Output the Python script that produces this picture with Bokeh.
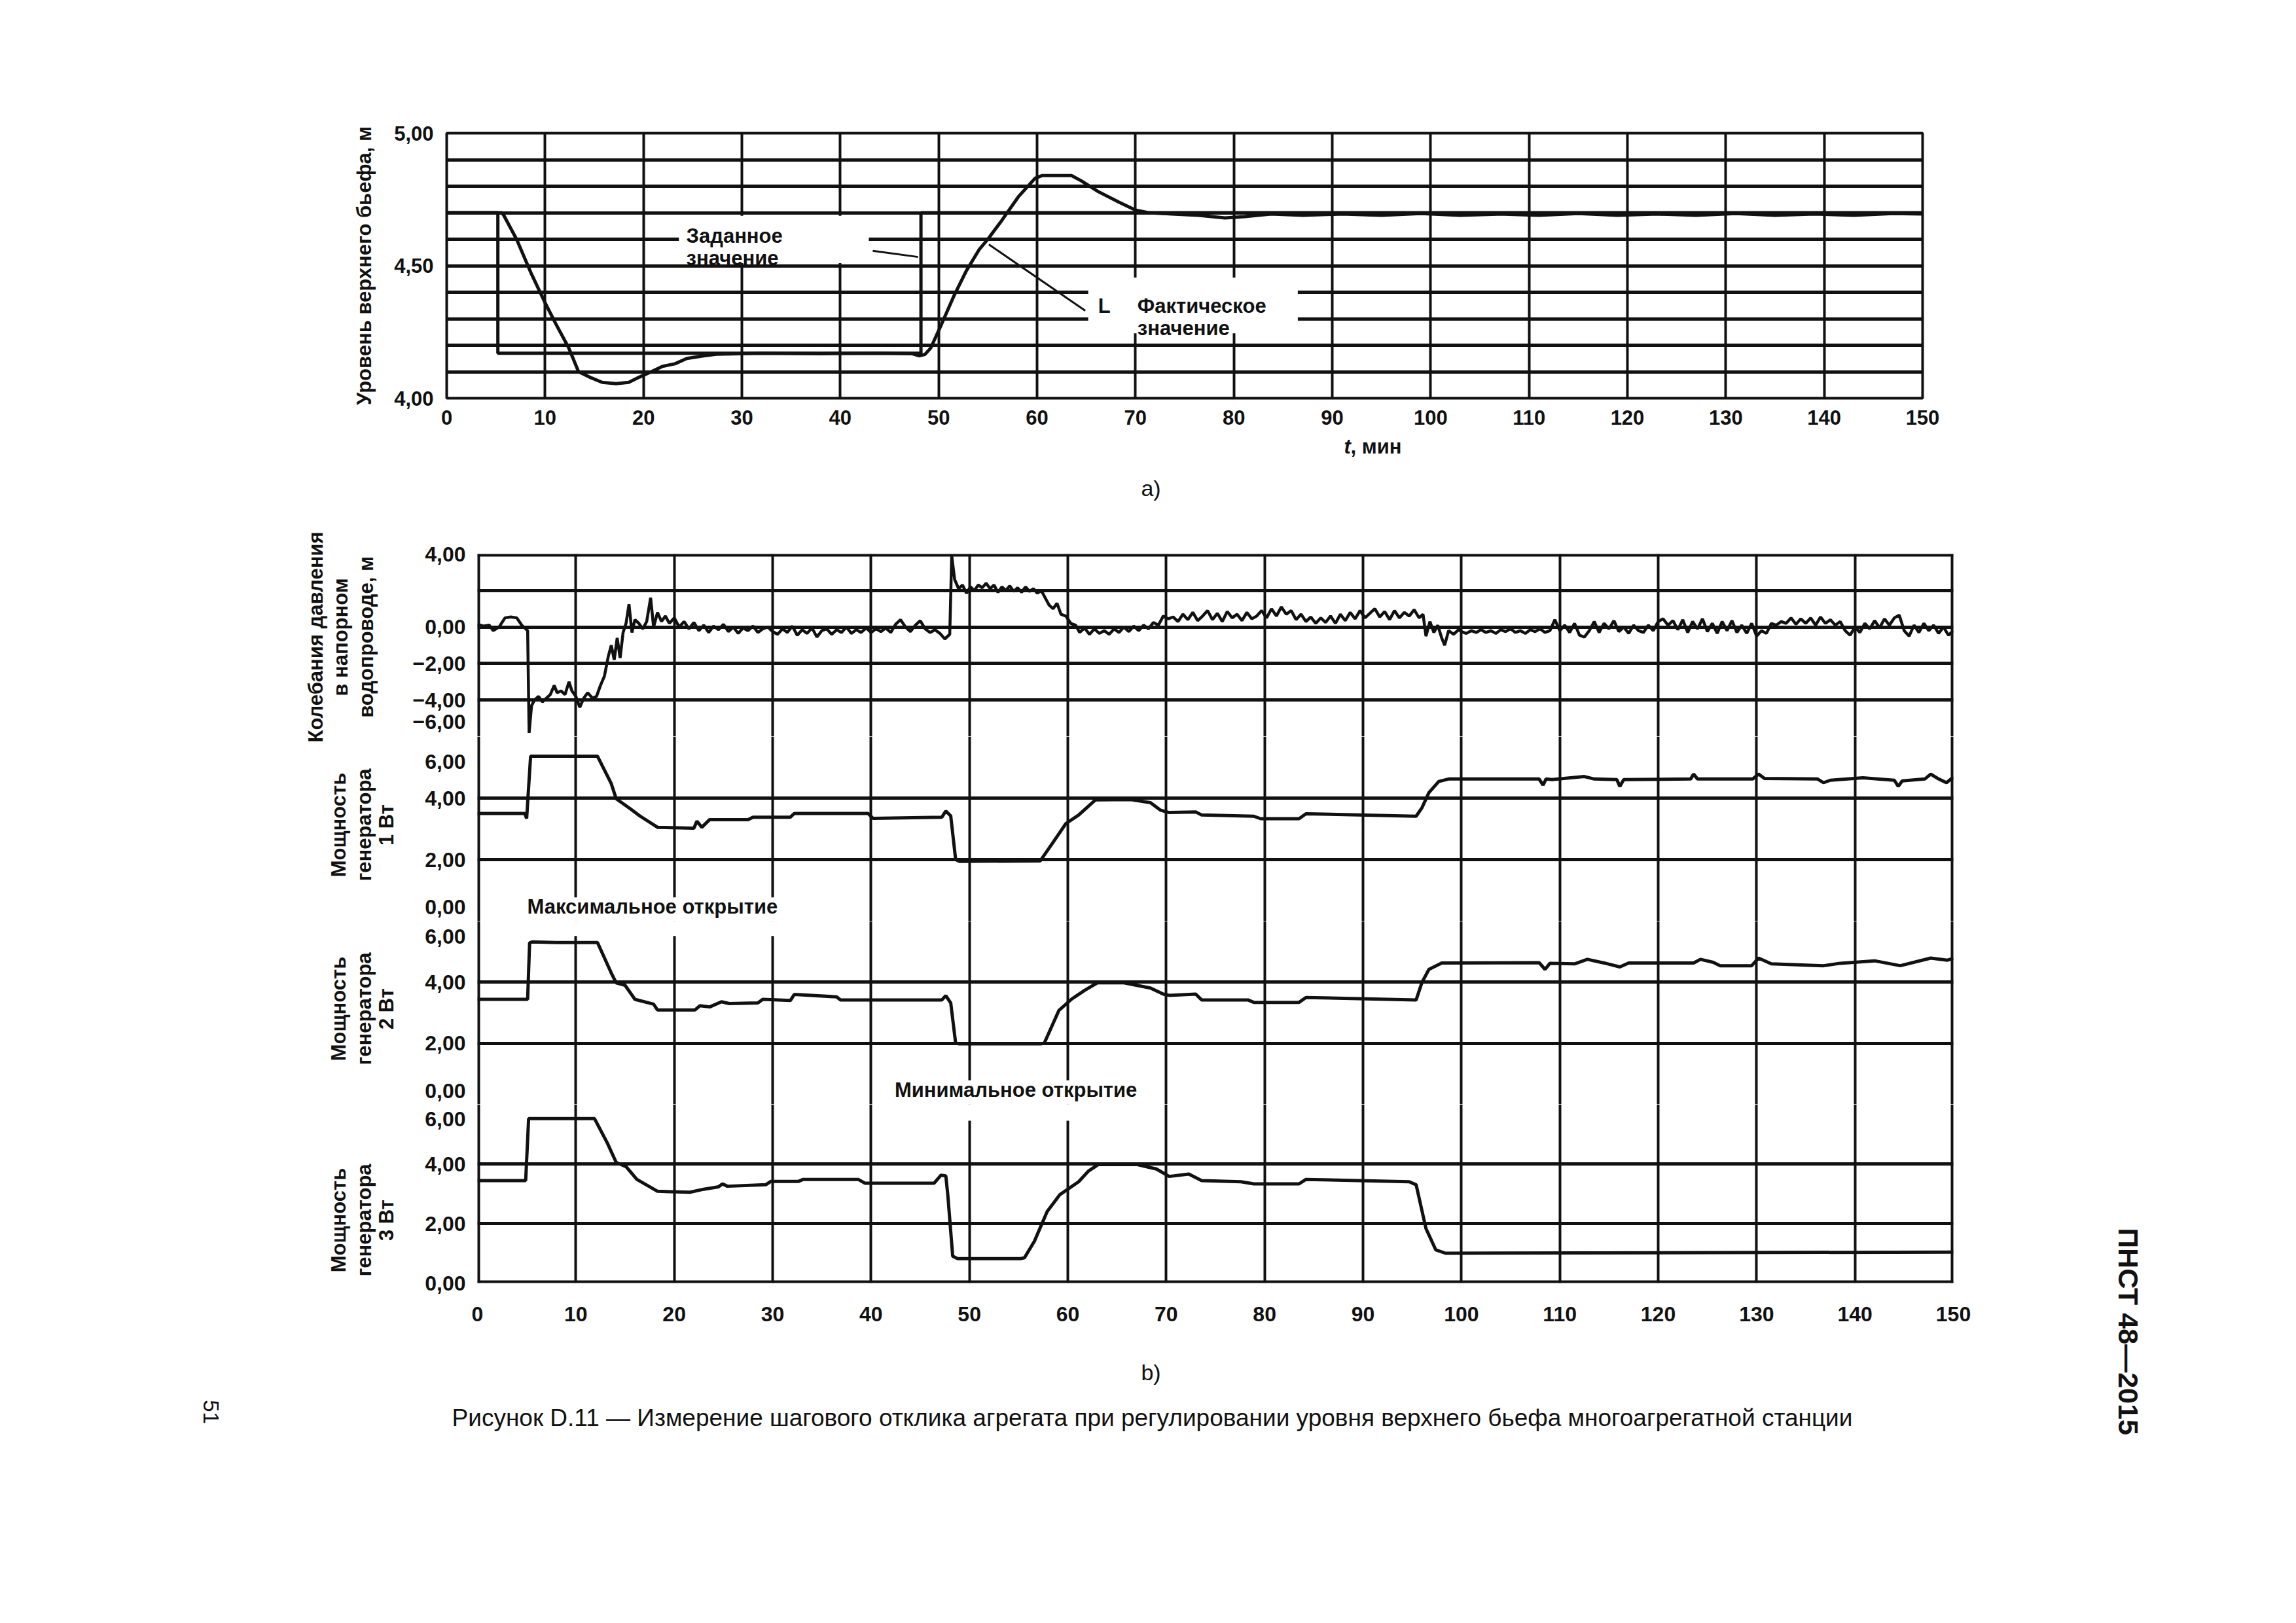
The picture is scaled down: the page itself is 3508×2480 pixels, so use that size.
from math import pi
from bokeh.plotting import figure
from bokeh.layouts import column, row
from bokeh.models import FixedTicker, Label, Range1d, BoxAnnotation, Span, Spacer
from bokeh.embed import file_html
from bokeh.resources import INLINE

# ---------------- data ----------------
time_ticks = [0, 10, 20, 30, 40, 50, 60, 70, 80, 90, 100, 110, 120, 130, 140, 150]

# (a) upper water level
level_grid = [4.0, 4.1, 4.2, 4.3, 4.4, 4.5, 4.6, 4.7, 4.8, 4.9, 5.0]
level_ticks = [4.0, 4.5, 5.0]
level_labels = ["4,00", "4,50", "5,00"]

setpoint_t = [0, 5.2, 5.2, 48.2, 48.2, 150]
setpoint_v = [4.70, 4.70, 4.17, 4.17, 4.70, 4.70]

actual_points = [
    (0, 4.70), (5.6, 4.70), (5.8, 4.69), (7.1, 4.60), (8.6, 4.47), (10.0, 4.36), (11.1, 4.28),
    (12.4, 4.19), (13.4, 4.10), (14.5, 4.08), (15.8, 4.06), (17.2, 4.055), (18.5, 4.06), (19.6, 4.08),
    (20.8, 4.10), (21.9, 4.12), (23.2, 4.13), (24.4, 4.15), (26.1, 4.16), (27.4, 4.166), (32, 4.17),
    (38, 4.168), (44, 4.17), (47.3, 4.168), (48.0, 4.16), (48.6, 4.165), (49.2, 4.19), (50.3, 4.28),
    (51.6, 4.39), (52.8, 4.48), (54.1, 4.56), (55.0, 4.60), (56.4, 4.67), (58.1, 4.76), (59.8, 4.83),
    (60.5, 4.84), (63.5, 4.84), (64.5, 4.82), (66.2, 4.78), (68.3, 4.74), (70.0, 4.71), (71.3, 4.70),
    (73.7, 4.695), (76.4, 4.69), (79.1, 4.68), (81.1, 4.685), (83.8, 4.695), (87, 4.69), (91, 4.695),
    (95, 4.69), (99, 4.697), (103, 4.69), (107, 4.695), (111, 4.69), (115, 4.697), (119, 4.69),
    (123, 4.695), (127, 4.69), (131, 4.697), (135, 4.69), (139, 4.695), (143, 4.69), (147, 4.697),
    (150, 4.695),
]
setpoint_leader_t = [43.3, 47.9]
setpoint_leader_v = [4.556, 4.533]
actual_leader_t = [55.1, 64.9]
actual_leader_v = [4.58, 4.33]

# (b) penstock pressure and generator powers
pressure_grid = [-6, -4, -2, 0, 2, 4]
pressure_ticks = [4, 0, -2, -4, -5.2]
pressure_labels = ["4,00", "0,00", "\u22122,00", "\u22124,00", "\u22126,00"]
power_grid = [0, 2, 4, 6]
gen1_ticks = [5.19, 4, 2, 0.45]
gen2_ticks = [5.5, 4, 2, 0.45]
gen3_ticks = [5.5, 4, 2, 0]
power_labels = ["6,00", "4,00", "2,00", "0,00"]

panel_titles = [
    ["Колебания давления", "в напорном", "водопроводе, м"],
    ["Мощность", "генератора", "1 Вт"],
    ["Мощность", "генератора", "2 Вт"],
    ["Мощность", "генератора", "3 Вт"],
]

pressure_points = [
    (0.0, 0.15), (0.6, 0.05), (1.2, 0.1), (1.6, -0.2), (2.2, 0.0), (2.8, 0.5), (3.4, 0.55), (4.0, 0.5),
    (4.5, 0.1), (4.9, -0.1), (5.1, -0.2), (5.25, -5.8), (5.5, -4.3), (5.8, -4.0), (6.2, -3.8), (6.6, -4.1),
    (7.0, -3.9), (7.4, -3.7), (7.8, -3.2), (8.1, -3.6), (8.5, -3.5), (8.9, -3.7), (9.3, -3.0), (9.6, -3.5),
    (10.0, -3.8), (10.4, -4.4), (10.8, -3.9), (11.2, -3.6), (11.7, -3.9), (12.1, -3.8), (12.5, -3.2),
    (12.9, -2.7), (13.3, -1.6), (13.6, -1.0), (13.9, -1.8), (14.2, -0.6), (14.5, -1.7), (14.8, -0.3),
    (15.1, 0.2), (15.4, 1.25), (15.7, -0.3), (16.0, 0.4), (16.4, 0.2), (16.8, -0.1), (17.2, 0.3),
    (17.6, 1.6), (17.9, 0.0), (18.3, 0.8), (18.7, 0.3), (19.1, 0.6), (19.5, 0.2), (20.0, 0.5),
    (20.5, 0.0), (21.0, 0.3), (21.5, -0.1), (22.0, 0.25),
    (22.5, -0.2), (23.0, 0.1), (23.5, -0.3), (24.0, 0.05), (24.5, -0.15), (25.0, 0.15), (25.5, -0.25),
    (26.0, 0.0), (26.5, -0.35), (27.0, -0.05), (27.5, -0.2), (28.0, 0.05), (28.5, -0.3), (29.0, -0.1),
    (29.5, 0.0), (30.0, -0.25), (30.5, -0.4), (31.0, -0.1), (31.5, -0.3), (32.0, 0.05), (32.5, -0.45),
    (33.0, -0.15), (33.5, -0.35), (34.0, -0.05), (34.5, -0.55), (35.0, -0.2), (35.5, -0.1), (36.0, -0.4),
    (36.5, -0.15), (37.0, -0.3), (37.5, 0.0), (38.0, -0.35), (38.5, -0.15), (39.0, -0.3), (39.5, -0.05),
    (40.0, -0.3), (40.5, -0.1), (41.0, -0.25), (41.5, -0.05), (42.0, -0.3), (42.5, 0.15), (43.0, 0.4),
    (43.5, 0.0), (44.0, -0.25), (44.5, 0.1), (45.0, 0.35), (45.5, -0.1), (46.0, -0.3), (46.5, -0.15),
    (47.0, -0.35), (47.5, -0.65), (48.0, -0.4),
    (48.2, 3.9), (48.5, 2.6), (48.9, 2.1), (49.3, 2.3), (49.7, 1.85), (50.1, 2.2), (50.5, 2.0),
    (50.9, 2.3), (51.3, 2.15), (51.7, 2.4), (52.1, 2.1), (52.5, 2.3), (52.9, 1.9), (53.3, 2.2),
    (53.7, 2.0), (54.1, 2.25), (54.5, 1.95), (54.9, 2.15), (55.3, 1.9), (55.7, 2.2), (56.1, 1.95),
    (56.5, 2.1), (56.9, 1.85), (57.3, 2.0), (57.7, 1.6), (58.1, 1.2), (58.5, 1.0), (58.9, 1.3),
    (59.3, 0.7), (59.8, 0.6), (60.3, 0.2), (60.8, 0.1), (61.2, -0.3), (61.7, -0.05), (62.2, -0.4),
    (62.7, -0.1), (63.2, -0.35), (63.7, -0.2), (64.2, -0.4), (64.7, -0.1), (65.2, -0.3), (65.7, 0.0),
    (66.2, -0.25), (66.7, 0.05), (67.2, -0.2), (67.7, 0.1), (68.2, -0.1), (68.7, 0.25), (69.2, 0.1),
    (69.7, 0.6),
    (70.2, 0.45), (70.7, 0.55), (71.2, 0.3), (71.7, 0.7), (72.2, 0.4), (72.7, 0.8), (73.2, 0.35),
    (73.7, 0.6), (74.2, 0.9), (74.7, 0.4), (75.2, 0.75), (75.7, 0.3), (76.2, 0.85), (76.7, 0.5),
    (77.2, 0.7), (77.7, 0.35), (78.2, 0.8), (78.7, 0.45), (79.2, 0.6), (79.7, 0.9), (80.2, 0.5),
    (80.7, 1.0), (81.2, 0.6), (81.7, 1.1), (82.2, 0.7), (82.7, 0.9), (83.2, 0.4), (83.7, 0.7),
    (84.2, 0.3), (84.7, 0.55), (85.2, 0.2), (85.7, 0.5), (86.2, 0.25), (86.7, 0.6), (87.2, 0.2),
    (87.7, 0.7), (88.2, 0.35), (88.7, 0.8), (89.2, 0.45), (89.7, 0.9), (90.2, 0.5), (90.7, 0.75),
    (91.2, 1.0), (91.7, 0.55), (92.2, 0.85), (92.7, 0.4), (93.2, 0.9), (93.7, 0.5), (94.2, 0.8),
    (94.7, 0.6), (95.2, 0.95), (95.7, 0.5),
    (96.1, 0.7), (96.4, -0.5), (96.8, 0.3), (97.2, -0.3), (97.6, 0.1), (98.0, -0.6), (98.3, -1.0),
    (98.7, -0.2), (99.2, -0.4), (99.7, -0.15),
    (100.0, -0.25), (100.5, -0.35), (101.0, -0.2), (101.5, -0.3), (102.0, -0.15), (102.5, -0.3),
    (103.0, -0.2), (103.5, -0.35), (104.0, -0.15), (104.5, -0.25), (105.0, -0.1), (105.5, -0.3),
    (106.0, -0.2), (106.5, -0.35), (107.0, -0.15), (107.5, -0.25), (108.0, -0.1), (108.5, -0.3),
    (109.0, -0.2), (109.5, 0.4), (110.0, -0.2), (110.5, 0.1), (111.0, -0.3), (111.5, 0.2),
    (112.0, -0.45), (112.5, -0.55), (113.0, -0.2), (113.5, 0.3), (114.0, -0.3), (114.5, 0.2),
    (115.0, -0.1), (115.5, 0.35), (116.0, -0.25), (116.5, 0.0), (117.0, -0.35), (117.5, 0.1),
    (118.0, -0.2), (118.5, -0.3), (119.0, 0.1), (119.5, -0.2), (120.0, 0.3), (120.5, 0.45),
    (121.0, 0.1), (121.5, 0.35), (122.0, -0.15), (122.5, 0.4), (123.0, -0.3), (123.5, 0.3),
    (124.0, -0.1), (124.5, 0.45), (125.0, -0.25), (125.5, 0.2), (126.0, -0.35), (126.5, 0.3),
    (127.0, -0.2), (127.5, 0.35), (128.0, -0.3), (128.5, 0.1), (129.0, -0.35), (129.5, 0.2),
    (130.0, -0.5), (130.5, -0.2), (131.0, -0.35), (131.5, 0.2), (132.0, 0.1), (132.5, 0.3),
    (133.0, 0.2), (133.5, 0.5), (134.0, 0.15), (134.5, 0.45), (135.0, 0.2), (135.5, 0.5),
    (136.0, 0.1), (136.5, 0.55), (137.0, 0.2), (137.5, 0.4), (138.0, 0.1), (138.5, 0.3),
    (139.0, -0.2), (139.5, -0.45), (140.0, 0.0), (140.5, -0.3), (141.0, 0.2), (141.5, -0.1),
    (142.0, 0.35), (142.5, -0.05), (143.0, 0.45), (143.5, 0.1), (144.0, 0.5), (144.5, 0.65),
    (145.0, -0.2), (145.5, -0.5), (146.0, 0.1), (146.5, -0.3), (147.0, 0.2), (147.5, -0.2),
    (148.0, 0.1), (148.5, -0.35), (149.0, 0.0), (149.5, -0.45), (150.0, -0.2),
]

gen1_points = [
    (0, 3.50), (4.8, 3.50), (5.0, 3.34), (5.4, 5.36), (12.2, 5.36), (13.6, 4.47), (14.1, 3.98),
    (15.5, 3.66), (16.5, 3.42), (18.3, 3.05), (22.0, 3.02), (22.3, 3.25), (22.8, 3.05), (23.6, 3.30),
    (27.5, 3.30), (28.0, 3.38), (31.8, 3.38), (32.2, 3.50), (39.7, 3.50), (40.2, 3.34), (47.2, 3.38),
    (47.6, 3.58), (48.1, 3.42), (48.6, 2.0), (49.0, 1.94), (57.2, 1.96), (58.5, 2.56), (59.8, 3.17),
    (61.1, 3.45), (62.8, 3.94), (66.4, 3.95), (68.4, 3.85), (69.4, 3.61), (70.3, 3.53), (73.0, 3.55),
    (73.6, 3.45), (78.9, 3.41), (79.6, 3.33), (83.5, 3.33), (84.2, 3.49), (95.4, 3.41), (96.0, 3.69),
    (96.7, 4.18), (97.7, 4.54), (98.7, 4.62), (107.9, 4.62), (108.3, 4.42), (108.6, 4.62),
    (109.2, 4.60), (112.5, 4.70), (113.5, 4.62), (115.8, 4.60), (116.1, 4.38), (116.5, 4.60),
    (123.3, 4.62), (123.6, 4.78), (124.0, 4.62), (129.6, 4.62), (130.2, 4.78), (130.8, 4.64),
    (136.2, 4.62), (136.8, 4.50), (137.5, 4.58), (140.8, 4.66), (144.0, 4.58), (144.4, 4.38),
    (144.8, 4.56), (147.1, 4.62), (147.7, 4.78), (148.4, 4.64), (149.3, 4.50), (150, 4.68),
]

gen2_points = [
    (0, 3.44), (5.1, 3.44), (5.3, 5.29), (5.6, 5.32), (8.0, 5.30), (12.2, 5.30), (13.6, 4.30),
    (14.1, 3.98), (15.0, 3.90), (16.0, 3.44), (17.9, 3.28), (18.3, 3.09), (22.1, 3.09), (22.6, 3.23),
    (23.6, 3.19), (24.8, 3.36), (25.6, 3.30), (28.5, 3.32), (29.0, 3.44), (31.8, 3.40), (32.2, 3.60),
    (36.5, 3.52), (36.9, 3.42), (47.2, 3.42), (47.6, 3.56), (48.1, 3.32), (48.6, 2.0), (49.0, 1.98),
    (57.2, 1.98), (57.6, 2.0), (59.1, 3.08), (60.4, 3.45), (61.7, 3.73), (63.0, 3.98), (65.7, 3.98),
    (68.4, 3.81), (69.7, 3.61), (70.3, 3.57), (73.0, 3.61), (73.6, 3.42), (78.3, 3.42), (78.9, 3.34),
    (83.5, 3.34), (84.2, 3.50), (95.4, 3.42), (96.0, 4.0), (96.7, 4.42), (98.0, 4.63), (107.9, 4.64),
    (108.5, 4.42), (109.0, 4.62), (111.5, 4.60), (112.8, 4.75), (114.5, 4.63), (116.1, 4.50),
    (117.0, 4.63), (123.6, 4.63), (124.3, 4.75), (125.6, 4.65), (126.3, 4.54), (129.5, 4.54),
    (130.2, 4.79), (131.5, 4.60), (136.8, 4.54), (138.5, 4.62), (142.0, 4.70), (144.6, 4.54),
    (147.7, 4.79), (149.4, 4.72), (150, 4.78),
]

gen3_points = [
    (0, 3.44), (4.9, 3.44), (5.2, 5.52), (11.9, 5.52), (13.2, 4.70), (14.1, 4.05), (15.1, 3.91),
    (16.2, 3.48), (18.3, 3.08), (21.6, 3.05), (23.0, 3.15), (24.5, 3.23), (24.9, 3.33), (25.4, 3.25),
    (29.3, 3.30), (29.8, 3.41), (32.6, 3.41), (33.1, 3.48), (38.7, 3.48), (39.4, 3.35), (46.4, 3.35),
    (47.1, 3.62), (47.6, 3.60), (47.8, 2.97), (48.3, 0.90), (48.8, 0.82), (55.2, 0.82), (55.6, 0.85),
    (56.6, 1.40), (57.9, 2.40), (59.2, 2.97), (61.1, 3.40), (62.1, 3.76), (63.1, 3.98), (67.0, 3.98),
    (69.0, 3.83), (70.3, 3.58), (72.3, 3.66), (73.6, 3.44), (77.6, 3.40), (78.9, 3.33), (83.5, 3.33),
    (84.2, 3.48), (94.7, 3.40), (95.4, 3.30), (96.4, 1.83), (97.4, 1.11), (98.4, 1.00), (150, 1.04),
]

# ---------------- styling ----------------
FONT = "Liberation Sans"
INK = "#111111"
WC = 3142      # main column width
WS = 340       # right strip width
WL = 600       # left strip (panel titles) width
WP = WC - WL   # width of the stacked panels


def unzip(points):
    return [p[0] for p in points], [p[1] for p in points]


def no_align(p):
    try:
        p.frame_align = False
    except Exception:
        pass


def style_y_axis(ax, ticks, labels, size, label_standoff=20):
    ax.ticker = FixedTicker(ticks=ticks)
    ax.major_label_overrides = {t: s for t, s in zip(ticks, labels)}
    ax.axis_line_color = None
    ax.major_tick_line_color = None
    ax.minor_tick_line_color = None
    ax.major_tick_out = 0
    ax.major_tick_in = 0
    ax.major_label_standoff = 18
    ax.major_label_text_font = FONT
    ax.major_label_text_font_style = "bold"
    ax.major_label_text_font_size = size
    ax.major_label_text_color = INK
    ax.axis_label_text_font = FONT
    ax.axis_label_text_font_style = "bold"
    ax.axis_label_text_font_size = "31px"
    ax.axis_label_text_color = INK
    ax.axis_label_standoff = label_standoff


def style_x_axis(ax, size, standoff):
    ax.ticker = FixedTicker(ticks=time_ticks)
    ax.axis_line_color = None
    ax.major_tick_line_color = None
    ax.minor_tick_line_color = None
    ax.major_tick_out = 0
    ax.major_tick_in = 0
    ax.major_label_standoff = standoff
    ax.major_label_text_font = FONT
    ax.major_label_text_font_style = "bold"
    ax.major_label_text_font_size = size
    ax.major_label_text_color = INK


def label(p, x, y, text, size="31px", style="bold", align="left", baseline="middle", angle=0.0):
    p.add_layout(Label(x=x, y=y, text=text, text_font=FONT, text_font_size=size,
                       text_font_style=style, text_color=INK, text_align=align,
                       text_baseline=baseline, angle=angle))


def white_box(p, left, right, bottom, top):
    p.add_layout(BoxAnnotation(left=left, right=right, bottom=bottom, top=top,
                               fill_color="white", fill_alpha=1.0, line_color=None,
                               level="underlay"))


def text_strip(width, height):
    # a plain white strip whose frame fills it; y grows downward (page-like)
    s = figure(width=width, height=height, x_range=Range1d(0, width), y_range=Range1d(height, 0),
               output_backend="svg", toolbar_location=None,
               x_axis_location=None, y_axis_location=None,
               min_border_left=0, min_border_right=0, min_border_top=0, min_border_bottom=0)
    s.outline_line_color = None
    s.background_fill_color = "white"
    s.border_fill_color = "white"
    s.xgrid.visible = False
    s.ygrid.visible = False
    no_align(s)
    return s


# ---------------- (a) ----------------
fa = figure(width=WC, height=656, x_range=Range1d(0, 150), y_range=Range1d(4.0, 5.0),
            output_backend="svg", toolbar_location=None,
            min_border_left=674, min_border_right=213, min_border_top=195, min_border_bottom=56)
no_align(fa)
fa.outline_line_color = INK
fa.outline_line_width = 4
fa.background_fill_color = "white"
fa.border_fill_color = "white"
fa.xgrid.ticker = FixedTicker(ticks=time_ticks)
fa.ygrid.ticker = FixedTicker(ticks=level_grid)
fa.xgrid.grid_line_color = INK
fa.xgrid.grid_line_width = 4
fa.ygrid.grid_line_color = INK
fa.ygrid.grid_line_width = 5
style_x_axis(fa.xaxis[0], "31px", 18)
style_y_axis(fa.yaxis[0], level_ticks, level_labels, "31px", 25)
fa.yaxis[0].major_label_standoff = 20
fa.yaxis[0].axis_label = "Уровень верхнего бьефа, м"

white_box(fa, 23.6, 42.9, 4.51, 4.688)
white_box(fa, 65.2, 86.5, 4.245, 4.455)

fa.line(setpoint_t, setpoint_v, line_color=INK, line_width=5)
at, av = unzip(actual_points)
fa.line(at, av, line_color=INK, line_width=5)
fa.line(setpoint_leader_t, setpoint_leader_v, line_color=INK, line_width=3)
fa.line(actual_leader_t, actual_leader_v, line_color=INK, line_width=3)

label(fa, 24.35, 4.612, "Заданное", baseline="alphabetic")
label(fa, 24.35, 4.528, "значение", baseline="alphabetic")
label(fa, 70.2, 4.348, "Фактическое", baseline="alphabetic")
label(fa, 70.2, 4.263, "значение", baseline="alphabetic")
label(fa, 66.2, 4.348, "L", baseline="alphabetic")

# strip under (a): axis title and sub-figure letter (page y 664..780)
ta = text_strip(WC, 116)
label(ta, 2045, 18, "t", style="bold italic")
label(ta, 2055, 18, ", мин")
label(ta, 1750, 81, "a)", size="34px", style="normal", align="center")

# ---------------- (b) ----------------
xr = Range1d(0, 150)


def panel(height, y0, y1, top, bottom, with_x):
    p = figure(width=WP, height=height, x_range=xr, y_range=Range1d(y0, y1),
               output_backend="svg", toolbar_location=None,
               x_axis_location="below" if with_x else None,
               min_border_left=121, min_border_right=166,
               min_border_top=top, min_border_bottom=bottom)
    no_align(p)
    p.outline_line_color = None
    p.background_fill_color = "white"
    p.border_fill_color = "white"
    p.xgrid.ticker = FixedTicker(ticks=time_ticks)
    p.xgrid.grid_line_color = INK
    p.xgrid.grid_line_width = 4
    p.ygrid.grid_line_color = INK
    p.ygrid.grid_line_width = 5
    p.add_layout(Span(location=0, dimension="height", line_color=INK, line_width=8))
    p.add_layout(Span(location=150, dimension="height", line_color=INK, line_width=8))
    return p


fp = panel(345, -6, 4, 66, 0, False)
fp.ygrid.ticker = FixedTicker(ticks=pressure_grid)
style_y_axis(fp.yaxis[0], pressure_ticks, pressure_labels, "32px")
fp.add_layout(Span(location=4, dimension="width", line_color=INK, line_width=8))
pt, pv = unzip(pressure_points)
fp.line(pt, pv, line_color=INK, line_width=4.5)

g1 = panel(282, 0, 6, 0, 0, False)
g1.ygrid.ticker = FixedTicker(ticks=power_grid)
style_y_axis(g1.yaxis[0], gen1_ticks, power_labels, "32px")
white_box(g1, 1.1, 33.8, -1.0, 0.77)
t1, v1 = unzip(gen1_points)
g1.line(t1, v1, line_color=INK, line_width=5)
label(g1, 5.06, 0.1, "Максимальное открытие", baseline="bottom")

g2 = panel(280, 0, 6, 0, 0, False)
g2.ygrid.ticker = FixedTicker(ticks=power_grid)
style_y_axis(g2.yaxis[0], gen2_ticks, power_labels, "32px")
white_box(g2, 1.1, 33.8, 5.51, 7.0)
white_box(g2, 41.2, 67.4, -1.0, 0.79)
t2, v2 = unzip(gen2_points)
g2.line(t2, v2, line_color=INK, line_width=5)
label(g2, 42.4, 0.1, "Минимальное открытие", baseline="bottom")

g3 = panel(358, 0, 6, 0, 85, True)
g3.ygrid.ticker = FixedTicker(ticks=power_grid)
style_y_axis(g3.yaxis[0], gen3_ticks, power_labels, "32px")
style_x_axis(g3.xaxis[0], "32px", 36)
g3.add_layout(Span(location=0, dimension="width", line_color=INK, line_width=8))
white_box(g3, 41.2, 67.4, 5.45, 7.0)
t3, v3 = unzip(gen3_points)
g3.line(t3, v3, line_color=INK, line_width=5)

# left strip with the panel titles (page x 8..608, y 780..2045)
ls = text_strip(WL, 345 + 282 + 280 + 358)
title_x = [[474, 512, 551], [509, 548, 582], [509, 548, 582], [509, 548, 582]]
title_y = [193, 480, 761, 1084]
for lines, xs, yc in zip(panel_titles, title_x, title_y):
    for text, xl in zip(lines, xs):
        label(ls, xl, yc, text, align="center", angle=pi / 2)

# strip under (b): letter, caption, page number (page y 2045..2300)
tb = text_strip(WC, 255)
label(tb, 1750, 51, "b)", size="34px", style="normal", align="center")
label(tb, 1752, 121,
      "Рисунок D.11 — Измерение шагового отклика агрегата при регулировании уровня верхнего бьефа многоагрегатной станции",
      size="37px", style="normal", align="center")
label(tb, 314, 112, "51", size="33px", style="normal", align="center", angle=-pi / 2)

# right strip with the standard designation (page x 3150..3490)
side = text_strip(WS, 2292)
label(side, 101, 2026, "ПНСТ 48—2015", size="43px", style="bold", align="center", angle=-pi / 2)

panels = column(fp, g1, g2, g3)
main = column(fa, ta, row(ls, panels), tb)
page = column(Spacer(height=8), row(Spacer(width=8), main, side))
open("out.html", "w").write(file_html(page, INLINE))
